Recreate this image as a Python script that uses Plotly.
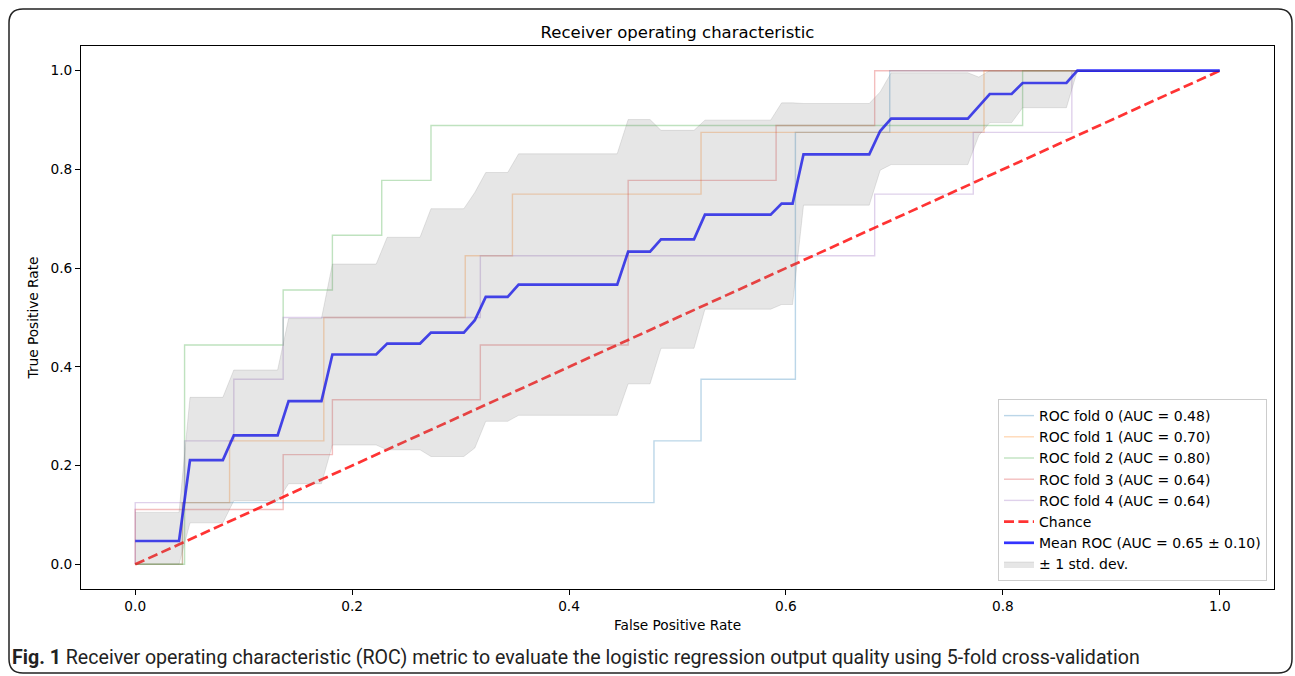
import plotly.graph_objects as go

# ---------------- data ----------------
fold_names = ["ROC fold 0 (AUC = 0.48)", "ROC fold 1 (AUC = 0.70)", "ROC fold 2 (AUC = 0.80)",
              "ROC fold 3 (AUC = 0.64)", "ROC fold 4 (AUC = 0.64)"]

fold0_fpr = [0, 0.0435, 0.0435, 0.4783, 0.4783, 0.5217, 0.5217, 0.6087, 0.6087, 0.6957, 0.6957, 1.0]
fold0_tpr = [0, 0, 0.125, 0.125, 0.25, 0.25, 0.375, 0.375, 0.875, 0.875, 1.0, 1.0]

fold1_fpr = [0, 0.0435, 0.0435, 0.0870, 0.0870, 0.1739, 0.1739, 0.3043, 0.3043, 0.3478, 0.3478,
             0.5217, 0.5217, 0.7826, 0.7826, 1.0]
fold1_tpr = [0, 0, 0.125, 0.125, 0.25, 0.25, 0.5, 0.5, 0.625, 0.625, 0.75, 0.75, 0.875, 0.875, 1.0, 1.0]

fold2_fpr = [0, 0.0455, 0.0455, 0.1364, 0.1364, 0.1818, 0.1818, 0.2273, 0.2273, 0.2727, 0.2727,
             0.8182, 0.8182, 1.0]
fold2_tpr = [0, 0, 0.4444, 0.4444, 0.5556, 0.5556, 0.6667, 0.6667, 0.7778, 0.7778, 0.8889, 0.8889, 1.0, 1.0]

fold3_fpr = [0, 0, 0.1364, 0.1364, 0.1818, 0.1818, 0.3182, 0.3182, 0.4545, 0.4545, 0.5909, 0.5909,
             0.6818, 0.6818, 1.0]
fold3_tpr = [0, 0.1111, 0.1111, 0.2222, 0.2222, 0.3333, 0.3333, 0.4444, 0.4444, 0.7778, 0.7778,
             0.8889, 0.8889, 1.0, 1.0]

fold4_fpr = [0, 0, 0.0455, 0.0455, 0.0909, 0.0909, 0.1364, 0.1364, 0.3182, 0.3182, 0.6818, 0.6818,
             0.7727, 0.7727, 0.8636, 0.8636, 1.0]
fold4_tpr = [0, 0.125, 0.125, 0.25, 0.25, 0.375, 0.375, 0.5, 0.5, 0.625, 0.625, 0.75, 0.75, 0.875,
             0.875, 1.0, 1.0]

chance_x = [0, 1]
chance_y = [0, 1]

mean_fpr = [0.0, 0.0404, 0.0505, 0.0808, 0.0909, 0.1313, 0.1414, 0.1717, 0.1818, 0.2222, 0.2323,
            0.2626, 0.2727, 0.3030, 0.3131, 0.3232, 0.3434, 0.3535, 0.4444, 0.4545, 0.4747, 0.4848,
            0.5152, 0.5253, 0.5859, 0.5960, 0.6061, 0.6162, 0.6768, 0.6869, 0.6970, 0.7677, 0.7778,
            0.7879, 0.8081, 0.8182, 0.8586, 0.8687, 1.0]
mean_tpr = [0.0472, 0.0472, 0.2111, 0.2111, 0.2611, 0.2611, 0.3306, 0.3306, 0.4250, 0.4250, 0.4472,
            0.4472, 0.4694, 0.4694, 0.4944, 0.5417, 0.5417, 0.5667, 0.5667, 0.6333, 0.6333, 0.6583,
            0.6583, 0.7083, 0.7083, 0.7306, 0.7306, 0.8306, 0.8306, 0.8778, 0.9028, 0.9028, 0.9278,
            0.9528, 0.9528, 0.9750, 0.9750, 1.0, 1.0]
tpr_upper = [0.1052, 0.1052, 0.3382, 0.3382, 0.3936, 0.3936, 0.4978, 0.4978, 0.6083, 0.6083, 0.6625,
             0.6625, 0.7204, 0.7204, 0.7533, 0.7937, 0.7937, 0.8316, 0.8316, 0.9010, 0.9010, 0.8791,
             0.8791, 0.8998, 0.8998, 0.9348, 0.9348, 0.9335, 0.9335, 0.9570, 0.9957, 0.9957, 0.9870,
             1.0, 1.0, 1.0, 1.0, 1.0, 1.0]
tpr_lower = [0.0, 0.0, 0.0840, 0.0840, 0.1287, 0.1287, 0.1633, 0.1633, 0.2417, 0.2417, 0.2320,
             0.2320, 0.2184, 0.2184, 0.2356, 0.2897, 0.2897, 0.3018, 0.3018, 0.3657, 0.3657, 0.4376,
             0.4376, 0.5169, 0.5169, 0.5263, 0.5263, 0.7276, 0.7276, 0.7985, 0.8098, 0.8098, 0.8686,
             0.8948, 0.8948, 0.9250, 0.9250, 1.0, 1.0]

x_ticks = [0.0, 0.2, 0.4, 0.6, 0.8, 1.0]
y_ticks = [0.0, 0.2, 0.4, 0.6, 0.8, 1.0]

title_text = "Receiver operating characteristic"
x_title = "False Positive Rate"
y_title = "True Positive Rate"
caption = ("<b>Fig. 1</b> Receiver operating characteristic (ROC) metric to evaluate the "
           "logistic regression output quality using 5-fold cross-validation")

# ---------------- styling ----------------
FONT = "DejaVu Sans"
fold_colors = ["rgba(31,119,180,0.3)", "rgba(255,127,14,0.3)", "rgba(44,160,44,0.3)",
               "rgba(214,39,40,0.3)", "rgba(148,103,189,0.3)"]

W, H = 1295, 676
L, R, T, B = 81, 21, 46, 87  # plot area 81..1274 x 46..589
PW, PH = W - L - R, H - T - B

def px_x(p):
    return (p - L) / PW

def px_y(p):
    return (H - B - p) / PH

fig = go.Figure()

folds = [(fold0_fpr, fold0_tpr), (fold1_fpr, fold1_tpr), (fold2_fpr, fold2_tpr),
         (fold3_fpr, fold3_tpr), (fold4_fpr, fold4_tpr)]
for (fx, fy), name, col in zip(folds, fold_names, fold_colors):
    fig.add_trace(go.Scatter(x=fx, y=fy, mode="lines", name=name,
                             line=dict(color=col, width=1.4)))

fig.add_trace(go.Scatter(x=chance_x, y=chance_y, mode="lines", name="Chance",
                         line=dict(color="rgba(255,0,0,0.8)", width=2.7, dash="10px,4.4px")))

fig.add_trace(go.Scatter(x=mean_fpr, y=mean_tpr, mode="lines",
                         name="Mean ROC (AUC = 0.65 \u00b1 0.10)",
                         line=dict(color="rgba(0,0,255,0.8)", width=2.7)))

fig.add_trace(go.Scatter(x=mean_fpr, y=tpr_lower, mode="lines", showlegend=False,
                         line=dict(color="rgba(128,128,128,0.2)", width=1), hoverinfo="skip"))
fig.add_trace(go.Scatter(x=mean_fpr, y=tpr_upper, mode="lines", name="\u00b1 1 std. dev.",
                         fill="tonexty", fillcolor="rgba(128,128,128,0.2)",
                         line=dict(color="rgba(128,128,128,0.2)", width=1), hoverinfo="skip"))

axis_common = dict(range=[-0.05, 1.05], showgrid=False, zeroline=False, showline=True,
                   linecolor="black", linewidth=1, mirror=True, ticks="outside", ticklen=5,
                   tickwidth=1, tickcolor="black", tickformat=".1f",
                   tickfont=dict(family=FONT, size=13.7, color="black"))

fig.update_layout(
    width=W, height=H,
    margin=dict(l=L, r=R, t=T, b=B),
    paper_bgcolor="white", plot_bgcolor="white",
    font=dict(family=FONT, size=13.7, color="black"),
    title=dict(text=title_text, x=(677.5) / W, xanchor="center", y=1 - 32 / H, yanchor="middle",
               font=dict(family=FONT, size=16.5, color="black")),
    xaxis=dict(axis_common, tickvals=x_ticks,
               title=dict(text=x_title, font=dict(family=FONT, size=13.7), standoff=6)),
    yaxis=dict(axis_common, tickvals=y_ticks,
               title=dict(text=y_title, font=dict(family=FONT, size=13.7), standoff=8)),
    legend=dict(x=px_x(1267), y=px_y(581), xanchor="right", yanchor="bottom",
                bgcolor="white", bordercolor="#cccccc", borderwidth=1,
                font=dict(family=FONT, size=14, color="black"), itemwidth=30,
                tracegroupgap=0, traceorder="normal"),
    showlegend=True,
)

# outer rounded frame of the journal figure
x0, x1 = px_x(9), px_x(1292)
y0, y1 = px_y(9), px_y(673)
rx, ry = 14 / PW, 14 / PH
path = (f"M {x0+rx},{y0} L {x1-rx},{y0} Q {x1},{y0} {x1},{y0-ry} "
        f"L {x1},{y1+ry} Q {x1},{y1} {x1-rx},{y1} "
        f"L {x0+rx},{y1} Q {x0},{y1} {x0},{y1+ry} "
        f"L {x0},{y0-ry} Q {x0},{y0} {x0+rx},{y0} Z")
fig.add_shape(type="path", path=path, xref="paper", yref="paper",
              line=dict(color="#222222", width=1.5), layer="below")

fig.add_annotation(text=caption, xref="paper", yref="paper", x=px_x(10), y=px_y(657),
                   xanchor="left", yanchor="middle", showarrow=False,
                   font=dict(family="Roboto", size=19.6, color="#222222"))

fig.write_html("out.html", config={"displayModeBar": False},
               post_script="document.body.style.margin='0';document.body.style.overflow='hidden';")
